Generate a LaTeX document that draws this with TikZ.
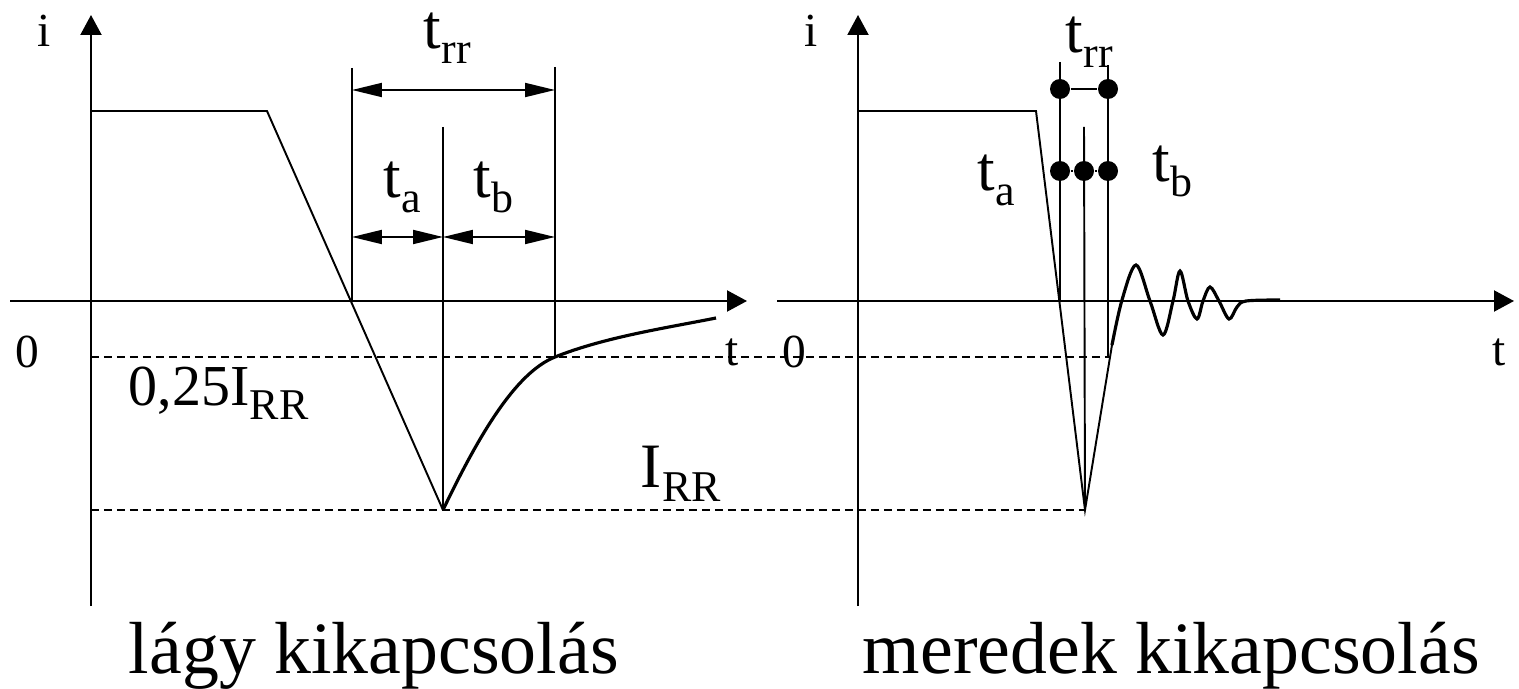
\documentclass[tikz,border=0pt]{standalone}
\usepackage{fontspec}
\setmainfont{Liberation Serif}
\usetikzlibrary{arrows.meta}
\newcommand{\fsz}[1]{\fontsize{#1}{#1}\selectfont}
\newcommand{\lsub}[1]{\raisebox{-0.3cm}{\fsz{25}#1}}

\begin{document}
\begin{tikzpicture}[x=0.02cm, y=-0.02cm, line width=1.1pt,
  axisline/.style={line width=1.2pt, -{Triangle[length=0.4cm, width=0.42cm]}},
  dim/.style={{Triangle[length=0.6cm, width=0.28cm]}-{Triangle[length=0.6cm, width=0.28cm]}},
  guide/.style={dash pattern=on 0.16cm off 0.1cm},
  wave/.style={line width=1.8pt},
  dot/.style={circle, fill, inner sep=0pt, minimum size=0.4cm},
  lbl/.style={anchor=base west, inner sep=0pt, font=\fsz{36}},
  axlbl/.style={anchor=base west, inner sep=0pt, font=\fsz{27}},
  captxt/.style={anchor=base west, inner sep=0pt, font=\fsz{42}}]
  \useasboundingbox (0,0) rectangle (1519,689);

  % axes of both plots
  \foreach \dx/\nm in {0/L, 767/R} {
    \begin{scope}[shift={(\dx,0)}]
      \coordinate (y0\nm) at (91,606);
      \coordinate (y1\nm) at (91,15);
      \coordinate (x0\nm) at (10,301);
      \coordinate (x1\nm) at (747,301);
      \draw[axisline] (y0\nm) -- (y1\nm);
      \draw[axisline] (x0\nm) -- (x1\nm);
      \node[axlbl] (i\nm) at (37,47) {i};
      \node[axlbl] (zero\nm) at (15,368) {0};
      \node[axlbl] (t\nm) at (725,366) {t};
    \end{scope}
  }

  % dashed levels
  \draw[guide] (91,357) -- (1110,357);
  \draw[guide] (91,510) -- (1085,510);

  % soft recovery
  \coordinate (Ls) at (352,301);
  \coordinate (Lm) at (443,510);
  \coordinate (Le) at (555,357);
  \draw (91,111) -- (267,111) -- (Lm);
  \draw[wave] (Lm) .. controls (478,437) and (515,373) .. (Le)
    .. controls (605,337) and (666,328) .. (716,318);
  \draw (352,68) -- (Ls);
  \draw (443,127) -- (Lm);
  \draw (555,67) -- (Le);
  \coordinate (rrA) at (352,90);
  \coordinate (rrB) at (555,90);
  \coordinate (abA) at (352,237);
  \coordinate (abM) at (443,237);
  \coordinate (abB) at (555,237);
  \draw[dim] (rrA) -- (rrB);
  \draw[dim] (abA) -- (abM);
  \draw[dim] (abM) -- (abB);
  \node[lbl] (trrL) at (423,49) {t\lsub{rr}};
  \node[lbl] (taL) at (383,198) {t\lsub{a}};
  \node[lbl] (tbL) at (473,198) {t\lsub{b}};
  \node[lbl, font=\fsz{33}] (Iq) at (128,405) {0,25I\lsub{RR}};
  \node[lbl] (Irr) at (640,487) {I\lsub{RR}};

  % snappy recovery
  \coordinate (Rm) at (1085,510);
  \draw (858,111) -- (1036,111) -- (Rm) -- (1112,345);
  \draw[wave] plot[smooth, tension=0.55] coordinates {(1112,345) (1122,300)
    (1136,265) (1150,301) (1163,335) (1173,301) (1180,271) (1188,301)
    (1197,319) (1203,301) (1210,287) (1219,301) (1229,319) (1237,307)
    (1246,301) (1280,300)};
  \draw (1060,62) -- (1060,301);
  \draw (1084,127) -- (Rm);
  \draw (1108,65) -- (1108,357);
  \node[dot] (d1) at (1060,89) {};
  \node[dot] (d2) at (1108,89) {};
  \node[dot] (d3) at (1060,171) {};
  \node[dot] (d4) at (1084,171) {};
  \node[dot] (d5) at (1108,171) {};
  \draw (d1) -- (d2);
  \draw (d3) -- (d4) -- (d5);
  \node[lbl] (trrR) at (1065,53) {t\lsub{rr}};
  \node[lbl] (taR) at (977,191) {t\lsub{a}};
  \node[lbl] (tbR) at (1152,182) {t\lsub{b}};

  \node[captxt] (capL) at (128,673) {lágy kikapcsolás};
  \node[captxt] (capR) at (862,673) {meredek kikapcsolás};
\end{tikzpicture}
\end{document}
